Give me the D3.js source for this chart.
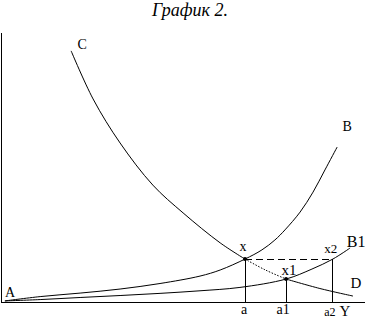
<!DOCTYPE html>
<meta charset="utf-8">
<style>
body { margin: 0; background: #fff; }
svg { display: block; }
.lbl { font-family: "Liberation Serif", "DejaVu Serif", serif; fill: #000; }
</style>
<body>
<script src="https://d3js.org/d3.v7.min.js"></script>
<script>

// curve points, in chart units (x: 0..100, y: 0..100)
var curveC  = [[19.2,93.0],[25.3,75.2],[32.8,58.9],[41.9,43.3],[50.3,33.0],[60.6,21.9],[67.5,15.9]];
var curveXX1 = [[67.5,15.9],[73.1,11.9],[78.9,8.5]];
var curveD  = [[78.9,8.5],[88.3,5.0],[97.5,2.2]];
var curveAB = [[0.8,0.4],[10.6,2.0],[21.7,3.3],[32.8,4.8],[43.9,6.85],[55.0,9.6],[60.6,11.85],
               [67.5,15.9],[72.2,19.3],[75.8,22.96],[78.6,26.7],[82.8,33.3],[86.4,40.7],
               [89.7,48.9],[93.1,57.4]];
var curveAB1 = [[0.8,0.4],[10.6,0.9],[21.7,1.67],[32.8,2.4],[43.9,3.2],[55.0,4.15],[66.1,5.4],
                [78.9,8.5],[86.1,12.2],[91.9,15.9],[96.7,20.0]];

var pointNames = ["x", "x1", "x2"];
var pointX = [67.5, 78.9, 91.9];
var pointY = [15.9, 8.5, 15.9];
var footNames = ["a", "a1", "a2"];

var W = 365, H = 318;

var x = d3.scaleLinear().domain([0, 100]).range([2, 362]);
var y = d3.scaleLinear().domain([0, 100]).range([302, 32]);

var svg = d3.select("body").append("svg")
    .attr("width", W)
    .attr("height", H);

// title
svg.append("text")
    .attr("class", "lbl")
    .attr("x", 190).attr("y", 16)
    .attr("text-anchor", "middle")
    .style("font-style", "italic")
    .style("font-size", "18px")
    .text("График 2.");

// axes (no ticks)
svg.append("g")
    .attr("transform", "translate(0," + y(0) + ")")
    .call(d3.axisBottom(d3.scaleLinear().range([0, W])).ticks(0).tickSizeOuter(0))
    .select(".domain").attr("stroke", "#000").attr("shape-rendering", "crispEdges");
svg.append("g")
    .attr("transform", "translate(1,0)")
    .call(d3.axisLeft(d3.scaleLinear().range([y(0), 32])).ticks(0).tickSizeOuter(0))
    .select(".domain").attr("stroke", "#000").attr("shape-rendering", "crispEdges");

var line = d3.line()
    .x(function(d) { return x(d[0]); })
    .y(function(d) { return y(d[1]); })
    .curve(d3.curveCatmullRom.alpha(0.5));

function draw(data, dash) {
  svg.append("path")
      .datum(data)
      .attr("fill", "none")
      .attr("stroke", "#000")
      .attr("stroke-width", 1)
      .attr("stroke-dasharray", dash || null)
      .attr("d", line);
}

draw(curveAB);
draw(curveAB1);
draw(curveC);
draw(curveXX1, "1.5,1.5");
draw(curveD);

// dashed level line x -> x2
svg.append("line")
    .attr("x1", x(pointX[0])).attr("x2", x(pointX[2]))
    .attr("y1", y(pointY[0])).attr("y2", y(pointY[2]))
    .attr("stroke", "#000").attr("stroke-dasharray", "7,4")
    .attr("shape-rendering", "crispEdges");

// drop lines
svg.selectAll(".drop").data(pointX).enter().append("line")
    .attr("x1", function(d) { return x(d); }).attr("x2", function(d) { return x(d); })
    .attr("y1", function(d, i) { return y(pointY[i]); }).attr("y2", y(0))
    .attr("stroke", "#000")
    .attr("shape-rendering", "crispEdges");

// points
svg.selectAll(".pt").data(pointX.slice(0, 2)).enter().append("circle")
    .attr("cx", function(d) { return x(d); })
    .attr("cy", function(d, i) { return y(pointY[i]); })
    .attr("r", 2);

// point labels
var ptOff = [[-2, -8], [3, -4], [-2, -6]];
var ptSize = [14, 15, 13];
svg.selectAll(".ptl").data(pointNames).enter().append("text")
    .attr("class", "lbl")
    .attr("x", function(d, i) { return x(pointX[i]) + ptOff[i][0]; })
    .attr("y", function(d, i) { return y(pointY[i]) + ptOff[i][1]; })
    .attr("text-anchor", "middle")
    .style("font-size", function(d, i) { return ptSize[i] + "px"; })
    .text(function(d) { return d; });

// foot labels under axis
var footSize = [14, 14, 12];
svg.selectAll(".ftl").data(footNames).enter().append("text")
    .attr("class", "lbl")
    .attr("x", function(d, i) { return x(pointX[i]) - (i === 0 ? 1 : 3); })
    .attr("y", function(d, i) { return y(0) + (i === 2 ? 14 : 12); })
    .attr("text-anchor", "middle")
    .style("font-size", function(d, i) { return footSize[i] + "px"; })
    .text(function(d) { return d; });

function label(t, px, py, size) {
  svg.append("text")
      .attr("class", "lbl")
      .attr("x", px).attr("y", py)
      .attr("text-anchor", "middle")
      .style("font-size", size + "px")
      .text(t);
}

var c0 = curveC[0], b0 = curveAB[curveAB.length - 1], b1 = curveAB1[curveAB1.length - 1],
    d0 = curveD[curveD.length - 1];
label("C", x(c0[0]) + 11, y(c0[1]) - 2, 14);
label("B", x(b0[0]) + 10, y(b0[1]) - 16, 14);
label("B1", x(b1[0]) + 6, y(b1[1]) - 1, 16);
label("D", x(d0[0]) + 3, y(d0[1]) - 8, 15);
label("Y", x(d0[0]) - 8, y(0) + 14, 15);
label("A", 10, y(0) - 5, 14);

</script>
</body>
